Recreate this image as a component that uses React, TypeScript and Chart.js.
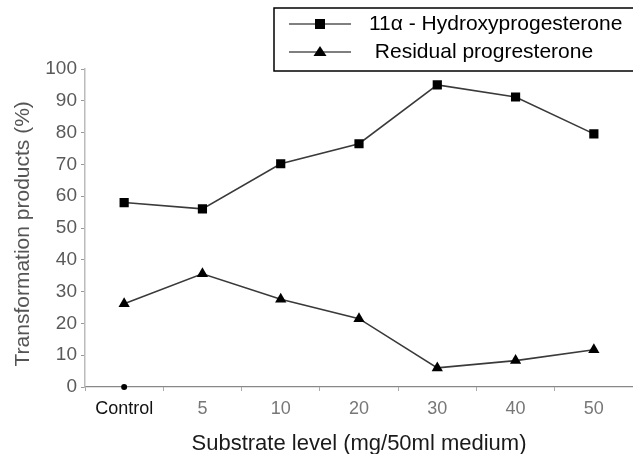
import React, { useEffect, useRef } from "react";
import { Chart, registerables } from "chart.js";

Chart.register(...registerables);

const categories = ["Control", "5", "10", "20", "30", "40", "50"];
const hydroxyValues = [58, 56, 70.2, 76.5, 95, 91.2, 79.6];
const residualValues = [26.2, 35.6, 27.6, 21.5, 6, 8.3, 11.7];
const controlZero = [0, null, null, null, null, null, null];
const yTicks = [0, 10, 20, 30, 40, 50, 60, 70, 80, 90, 100];
const seriesLabels = ["11\u03b1 - Hydroxyprogesterone", " Residual progresterone"];

const FONT = "'Liberation Sans', Arial, Helvetica, sans-serif";

const boxLegend = {
  id: "boxLegend",
  afterDraw(chart: any, _args: any, opts: any) {
    const ctx = chart.ctx as CanvasRenderingContext2D;
    ctx.save();
    ctx.strokeStyle = "#000";
    ctx.lineWidth = 1.5;
    ctx.strokeRect(opts.left, opts.top, opts.right - opts.left, opts.bottom - opts.top);
    const n = opts.count;
    for (let i = 0; i < n; i++) {
      const ds = chart.data.datasets[i];
      const y = opts.rowY[i];
      ctx.strokeStyle = "#000";
      ctx.lineWidth = 1;
      ctx.beginPath();
      ctx.moveTo(opts.lineStart, y);
      ctx.lineTo(opts.lineEnd, y);
      ctx.stroke();
      const cx = (opts.lineStart + opts.lineEnd) / 2;
      ctx.fillStyle = "#000";
      ctx.beginPath();
      if (ds.pointStyle === "rect") {
        ctx.rect(cx - 5, y - 5, 10, 10);
      } else {
        ctx.moveTo(cx, y - 6);
        ctx.lineTo(cx + 6.5, y + 4);
        ctx.lineTo(cx - 6.5, y + 4);
        ctx.closePath();
      }
      ctx.fill();
      ctx.font = `21px ${FONT}`;
      ctx.textBaseline = "middle";
      ctx.textAlign = "left";
      ctx.fillText(ds.label, opts.textX, y);
    }
    ctx.restore();
  },
};

export default function App() {
  const ref = useRef<HTMLCanvasElement | null>(null);

  useEffect(() => {
    if (!ref.current) return;
    const chart = new Chart(ref.current, {
      type: "line",
      data: {
        labels: categories,
        datasets: [
          {
            label: seriesLabels[0],
            data: hydroxyValues,
            borderColor: "#3a3a3a",
            borderWidth: 1.6,
            pointStyle: "rect",
            pointRadius: 6.5,
            pointBackgroundColor: "#000",
            pointBorderColor: "#000",
            pointBorderWidth: 0,
            tension: 0,
          },
          {
            label: seriesLabels[1],
            data: residualValues,
            borderColor: "#3a3a3a",
            borderWidth: 1.6,
            pointStyle: "triangle",
            pointRadius: 6.5,
            pointBackgroundColor: "#000",
            pointBorderColor: "#000",
            pointBorderWidth: 0,
            tension: 0,
          },
          {
            label: "control",
            data: controlZero,
            showLine: false,
            pointStyle: "circle",
            pointRadius: 3,
            pointBackgroundColor: "#000",
            pointBorderColor: "#000",
            pointBorderWidth: 0,
            clip: false,
          },
        ],
      },
      options: {
        animation: false,
        responsive: false,
        devicePixelRatio: 1,
        layout: { autoPadding: false, padding: { top: 69, left: 0, right: 0, bottom: 0 } },
        plugins: {
          legend: { display: false },
          tooltip: { enabled: false },
          boxLegend: {
            left: 274,
            top: 8,
            right: 640,
            bottom: 71,
            count: 2,
            rowY: [24, 52],
            lineStart: 289,
            lineEnd: 351,
            textX: 369,
          },
        } as any,
        scales: {
          x: {
            type: "category",
            offset: true,
            grid: {
              offset: true,
              drawOnChartArea: false,
              drawTicks: true,
              tickLength: 4,
              color: "#aaa",
            },
            border: { display: true, color: "#888", width: 1.2 },
            ticks: {
              padding: 7,
              font: { family: FONT, size: 18 },
              color: (c: any) => (c.index === 0 ? "#111" : "#777"),
            },
            title: {
              display: true,
              text: "Substrate level (mg/50ml medium)",
              font: { family: FONT, size: 22, lineHeight: 0.9 },
              color: "#1a1a1a",
              padding: { top: 7.6, bottom: 0 },
            },
          },
          y: {
            type: "linear",
            min: 0,
            max: 100,
            afterBuildTicks: (axis: any) => {
              axis.ticks = yTicks.map((v) => ({ value: v }));
            },
            grid: {
              drawOnChartArea: false,
              drawTicks: true,
              tickLength: 4,
              color: "#999",
            },
            border: { display: true, color: "#bbb", width: 1.5 },
            ticks: {
              padding: 4,
              font: { family: FONT, size: 19 },
              color: "#5a5a5a",
            },
            title: {
              display: true,
              text: "Transformation products (%)  ",
              align: "center",
              font: { family: FONT, size: 21, lineHeight: 1 },
              color: "#555",
              padding: { top: 12.5, bottom: 7.8 },
            },
          },
        },
      },
      plugins: [boxLegend],
    });
    return () => chart.destroy();
  }, []);

  return (
    <div style={{ position: "fixed", left: 0, top: 0, width: 633, height: 454, background: "#fff" }}>
      <canvas ref={ref} width={633} height={454} />
    </div>
  );
}
